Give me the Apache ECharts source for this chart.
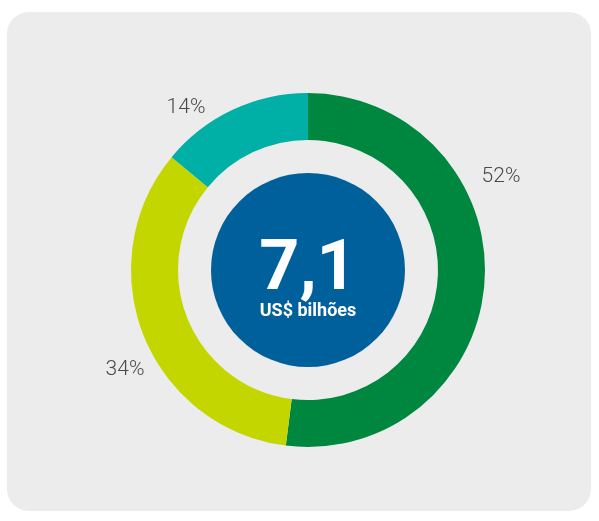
<!DOCTYPE html>
<html>
<head>
<meta charset="utf-8">
<script src="https://cdn.jsdelivr.net/npm/echarts@6/dist/echarts.min.js"></script>
<style>
  html, body { margin: 0; padding: 0; background: #ffffff; }
  /* cartão cinza atrás do gráfico */
  #card {
    position: absolute; left: 7px; top: 12px; width: 584px; height: 499px;
    background: #ececec; border-radius: 22px;
  }
  #chart { position: absolute; left: 0; top: 0; width: 599px; height: 521px; }
</style>
</head>
<body>
<div id="card"></div>
<div id="chart"></div>
<script>
// dados do gráfico
const categorias = ['Segmento 1', 'Segmento 2', 'Segmento 3']
const valores = [52, 34, 14]
const cores = ['#00873f', '#c4d600', '#00afa5']
const total = 7.1
const totalTexto = '7,1'
const unidade = 'US$ bilhões'

// posição dos rótulos (px)
const labelPos = [[501, 177], [125, 370], [186, 108]]

const chart = echarts.init(document.getElementById('chart'))
const option = {
  animation: false,
  series: [
    {
      type: 'pie',
      center: [308, 270],
      radius: [130, 177],
      startAngle: 90,
      clockwise: true,
      silent: true,
      data: categorias.map((c, i) => ({
        name: c,
        value: valores[i],
        itemStyle: { color: cores[i] }
      })),
      label: {
        show: true,
        position: 'outside',
        formatter: (p) => Math.round(p.percent) + '%',
        fontFamily: 'Roboto',
        fontWeight: 300,
        fontSize: 21,
        color: '#4a4a4a'
      },
      labelLine: { show: false },
      labelLayout: (params) => ({
        x: labelPos[params.dataIndex][0],
        y: labelPos[params.dataIndex][1],
        align: 'center',
        verticalAlign: 'middle'
      })
    },
    {
      type: 'pie',
      center: [308, 270],
      radius: [0, 97],
      silent: true,
      data: [{ name: 'Total', value: total, itemStyle: { color: '#00609c' } }],
      label: {
        show: true,
        position: 'center',
        formatter: '{a|' + totalTexto + '}\n{b|' + unidade + '}',
        padding: [26, 0, 0, 0],
        rich: {
          a: { fontFamily: 'Roboto', fontWeight: 'bold', fontSize: 70, lineHeight: 56, color: '#ffffff' },
          b: { fontFamily: 'Roboto', fontWeight: 'bold', fontSize: 18, lineHeight: 24, color: '#ffffff' }
        }
      },
      labelLine: { show: false }
    }
  ]
}
chart.setOption(option)
</script>
</body>
</html>
